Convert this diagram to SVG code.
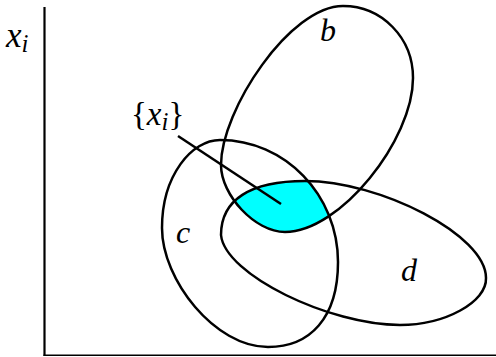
<svg xmlns="http://www.w3.org/2000/svg" width="496" height="357" viewBox="0 0 496 357">
<style>
.o{fill:none;stroke:#000;stroke-width:2.5}
.s{font-size:25px}
.n{font-style:normal}
</style>
<defs>
<path id="pb" d="M343,6 C382,6 413,38 413,78 C413,140 340,232 285,232 C255,232 221,195 221,165 C221,110 290,6 343,6 Z"/>
<path id="pc" d="M220,140 C285,140 338,195 338,262 C338,318 310,347 268,347 C215,347 162,280 162,228 C162,175 192,140 220,140 Z"/>
<path id="pd" d="M305,181 C380,181 486,235 486,278 C487,302 445,325 400,325 C330,325 225,275 221,235 C221,200 250,181 305,181 Z"/>
<clipPath id="clipB"><use href="#pb"/></clipPath>
<clipPath id="clipC"><use href="#pc"/></clipPath>
</defs>
<rect width="496" height="357" fill="#fff"/>
<g font-family="Liberation Serif" font-style="italic" font-size="32" fill="#000">
<g id="axes">
<line x1="44.5" y1="7" x2="44.5" y2="356" stroke="#000" stroke-width="2.2"/>
<line x1="43.5" y1="355.3" x2="496" y2="355.3" stroke="#000" stroke-width="1.6"/>
<text x="6" y="47" font-size="35">x<tspan class="s" font-size="26" dy="5">i</tspan></text>
</g>
<g id="region">
<g clip-path="url(#clipB)">
<use href="#pd" clip-path="url(#clipC)" fill="#00ffff"/>
</g>
</g>
<g id="node-b">
<use href="#pb" class="o"/>
<text x="320" y="41">b</text>
</g>
<g id="node-c">
<use href="#pc" class="o"/>
<text x="176" y="243">c</text>
</g>
<g id="node-d">
<use href="#pd" class="o"/>
<text x="401" y="281">d</text>
</g>
<g id="label-xi">
<text x="131" y="125" font-size="33"><tspan class="n">{</tspan>x<tspan class="s" dy="5">i</tspan><tspan class="n" dy="-5">}</tspan></text>
</g>
<g id="connectors">
<line class="o" x1="178" y1="136" x2="281" y2="204" stroke-width="2.2"/>
</g>
</g>
</svg>
